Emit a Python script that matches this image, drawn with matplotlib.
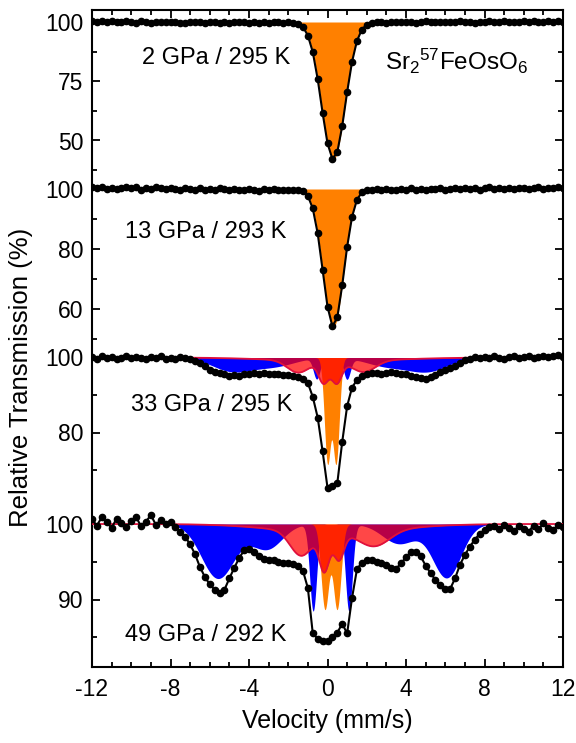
import numpy as np
import matplotlib.pyplot as plt

plt.rcParams['font.family'] = ['Liberation Sans', 'DejaVu Sans']
plt.rcParams['mathtext.default'] = 'regular'
plt.rcParams['axes.unicode_minus'] = False

# measurement channels (mm/s)
velocity = np.arange(-12, 12.001, 0.25)

# relative transmission (%), one value per channel
trans_2gpa = [100.4, 100.1, 100.6, 99.9, 100.3, 100.2, 99.8, 100.4,
              100.1, 99.7, 100.3, 100.0, 99.6, 100.2, 99.9, 100.1,
              99.8, 100.2, 99.7, 99.5, 100.0, 99.8, 100.1, 99.6,
              99.9, 100.2, 99.7, 100.0, 99.6, 99.9, 100.1, 99.8,
              99.7, 100.0, 99.6, 99.9, 99.7, 100.1, 99.8, 99.6,
              99.8, 99.6, 99.3, 97.9, 94.3, 87.3, 75.9, 61.7,
              48.8, 42.2, 45.1, 56.1, 70.4, 83.2, 92.0, 96.8,
              98.9, 99.6, 99.9, 100.1, 99.7, 100.0, 99.8, 100.2,
              99.9, 100.1, 99.7, 100.0, 100.3, 99.8, 100.1, 99.9,
              100.2, 99.8, 100.0, 100.3, 99.9, 100.1, 99.7, 100.2,
              100.0, 100.3, 99.9, 100.1, 100.4, 100.0, 100.2, 99.9,
              100.3, 100.1, 100.4, 100.0, 100.2, 100.5, 100.1, 100.3,
              100.2]

trans_13gpa = [100.5, 100.2, 100.7, 100.1, 100.4, 99.9, 100.3, 100.6,
               100.2, 100.5, 99.8, 100.3, 100.0, 100.8, 100.2, 99.9,
               100.4, 100.1, 99.7, 100.3, 100.0, 99.6, 100.2, 99.8,
               100.1, 99.7, 100.3, 99.9, 99.5, 100.1, 99.8, 99.6,
               100.0, 99.7, 99.4, 99.9, 99.6, 100.0, 99.5, 99.8,
               99.7, 99.6, 99.8, 99.4, 97.7, 93.5, 85.2, 73.1,
               60.8, 54.2, 57.2, 67.9, 80.7, 90.7, 96.4, 98.9,
               99.7, 99.5, 99.9, 99.6, 100.1, 99.8, 99.5, 100.0,
               99.7, 100.2, 99.8, 100.0, 99.6, 100.1, 99.9, 100.3,
               99.8, 100.1, 100.4, 99.9, 100.2, 100.0, 100.3, 99.8,
               100.2, 100.5, 100.0, 100.3, 99.9, 100.4, 100.1, 100.2,
               100.4, 100.0, 100.3, 100.6, 100.1, 100.4, 100.2, 100.5,
               100.3]

trans_33gpa = [100.1, 99.7, 100.3, 99.8, 100.2, 99.6, 100.0, 100.4,
               99.8, 100.2, 99.9, 99.5, 100.1, 99.8, 100.3, 99.7,
               100.0, 99.6, 100.2, 99.8, 99.5, 99.1, 98.5, 97.7,
               96.8, 96.2, 95.8, 95.5, 95.2, 95.3, 95.1, 95.5,
               95.6, 95.8, 95.6, 95.9, 95.7, 95.5, 95.7, 95.3,
               95.4, 95.1, 94.9, 94.3, 93.2, 89.5, 84.0, 75.0,
               65.3, 65.8, 66.5, 77.5, 87.0, 92.0, 94.0, 95.1,
               95.6, 95.8, 95.9, 95.6, 95.8, 96.1, 95.9, 95.7,
               95.5, 95.2, 94.9, 94.6, 94.4, 94.7, 95.3, 96.1,
               96.8, 97.3, 97.8, 98.6, 99.3, 99.7, 100.1, 99.8,
               100.2, 99.9, 100.3, 100.0, 99.7, 100.2, 100.4, 99.9,
               100.1, 100.4, 99.8, 100.2, 100.5, 100.1, 100.3, 100.6,
               100.2]

trans_49gpa = [100.6, 99.8, 100.9, 100.2, 99.5, 100.7, 100.1, 99.6,
               100.4, 100.9, 99.7, 100.3, 101.2, 99.9, 100.5, 100.0,
               100.3, 99.6, 99.0, 98.3, 97.3, 96.0, 94.3, 93.0,
               92.0, 91.3, 90.9, 91.3, 92.8, 94.2, 95.5, 96.5,
               96.7, 96.3, 95.7, 95.3, 95.2, 95.2, 95.0, 94.8,
               94.8, 94.7, 94.4, 93.8, 91.5, 85.5, 84.8, 84.5,
               84.5, 85.0, 85.6, 86.8, 85.5, 90.2, 94.0, 94.9,
               95.2, 95.2, 95.0, 94.9, 94.6, 94.2, 94.1, 94.8,
               95.6, 96.3, 96.3, 95.7, 94.5, 93.5, 92.6, 91.9,
               91.4, 91.4, 92.8, 94.6, 95.9, 97.0, 97.9, 98.7,
               99.2, 99.6, 99.8, 99.3, 99.9, 99.5, 99.1, 99.7,
               99.4, 99.0, 99.8, 99.3, 100.1, 99.5, 99.2, 99.9,
               99.6]

# fitted sub-spectra: (centre mm/s, FWHM mm/s, depth %)
orange_2gpa = [(0.3, 1.42, 58.0)]
orange_13gpa = [(0.3, 1.25, 46.0)]

orange_33gpa = [(0.0, 0.38, 27.8), (0.44, 0.38, 27.8)]
blue_33gpa = [(-4.85, 2.4, 3.6), (-2.7, 2.4, 2.2), (-0.55, 0.4, 5.5),
              (0.99, 0.4, 5.5), (3.0, 2.4, 2.2), (5.1, 2.4, 3.6)]
red_33gpa = [(0.3, 7.0, 1.0), (-1.5, 1.3, 3.2), (-0.2, 0.6, 5.7),
             (0.47, 0.6, 5.7), (1.85, 1.4, 3.0)]

orange_49gpa = [(-0.13, 0.47, 11.25), (0.49, 0.47, 11.25)]
blue_49gpa = [(-5.58, 2.0, 7.2), (-3.1, 1.84, 3.3), (-0.73, 0.42, 11.5),
              (1.09, 0.42, 11.5), (3.65, 2.0, 2.6), (6.07, 1.7, 7.1)]
red_49gpa = [(0.4, 7.0, 1.2), (-1.35, 1.3, 3.2), (-0.16, 0.6, 4.9),
             (0.58, 0.6, 3.5), (2.4, 1.8, 2.0)]

labels = ['2 GPa / 295 K', '13 GPa / 293 K', '33 GPa / 295 K', '49 GPa / 292 K']


def subspectrum(v, lines):
    absorb = np.zeros_like(v)
    for c, w, d in lines:
        absorb += d * np.exp(-4 * np.log(2) * ((v - c) / w) ** 2)
    return 100 - absorb


# frame rows (pixels from top) and where each spectrum sits inside it
frame_top, frame_bot = 10, 667
panels = [
    dict(data=trans_2gpa, orange=orange_2gpa, blue=None, red=None, base=22, scale=2.37,
         major=[100, 75, 50], minor=[87.5, 62.5, 37.5], text=(-5.7, 84.8)),
    dict(data=trans_13gpa, orange=orange_13gpa, blue=None, red=None, base=189, scale=3.0,
         major=[100, 80, 60], minor=[90, 70, 50], text=(-6.2, 85.7)),
    dict(data=trans_33gpa, orange=orange_33gpa, blue=blue_33gpa, red=red_33gpa, base=357.5,
         scale=3.75, major=[100, 80], minor=[90, 70], text=(-5.9, 87.3)),
    dict(data=trans_49gpa, orange=orange_49gpa, blue=blue_49gpa, red=red_49gpa, base=524,
         scale=7.55, major=[100, 90], minor=[95, 85], text=(-6.2, 85.3)),
]

fig = plt.figure(figsize=(5.76, 7.43), dpi=100)
rect = [92 / 576, 1 - frame_bot / 743, (563 - 92) / 576, (frame_bot - frame_top) / 743]
v_fine = np.linspace(-12, 12, 2401)

for i, p in enumerate(panels):
    ax = fig.add_axes(rect)
    ax.set_xlim(-12, 12)
    ax.set_ylim(100 - (frame_bot - p['base']) / p['scale'],
                100 + (p['base'] - frame_top) / p['scale'])

    if p['blue'] is not None:
        ax.fill_between(v_fine, subspectrum(v_fine, p['blue']), 100, color='#0000ff', lw=0)
    ax.fill_between(v_fine, subspectrum(v_fine, p['orange']), 100, color='#ff8000', lw=0)
    if p['red'] is not None:
        red = subspectrum(v_fine, p['red'])
        ax.fill_between(v_fine, red, 100, color='#ff0000', alpha=0.72, lw=0)
        ax.plot(v_fine, red, color='#e0103c', lw=1.3)

    ax.plot(velocity, p['data'], '-o', color='black', lw=1.5, ms=4.5)
    ax.text(p['text'][0], p['text'][1], labels[i], fontsize=17, ha='center', va='center')

    ax.set_yticks(p['major'])
    ax.set_yticklabels([f'{t:g}' for t in p['major']])
    ax.set_yticks(p['minor'], minor=True)
    ax.tick_params(axis='y', which='both', direction='in', left=True, right=True,
                   labelsize=16.5, pad=6, width=1.3)
    ax.tick_params(axis='y', which='major', length=6)
    ax.tick_params(axis='y', which='minor', length=3.5)

    if i == 0:
        ax.set_xticks(range(-12, 13, 4))
        ax.set_xticks(range(-12, 13, 1), minor=True)
        ax.tick_params(axis='x', which='both', direction='in', top=True, bottom=True,
                       labelsize=16.5, pad=8, width=1.3)
        ax.tick_params(axis='x', which='major', length=6)
        ax.tick_params(axis='x', which='minor', length=3.5)
        for s in ax.spines.values():
            s.set_linewidth(1.5)
        ax.text(6.6, 83.3, 'Sr$_2$$^{57}$FeOsO$_6$', fontsize=17.5, ha='center', va='center')
    else:
        ax.patch.set_visible(False)
        for s in ax.spines.values():
            s.set_visible(False)
        ax.tick_params(axis='x', which='both', bottom=False, top=False, labelbottom=False)

fig.text(0.036, 0.492, 'Relative Transmission (%)', rotation=90, ha='center', va='center',
         fontsize=18.5)
fig.text(0.5686, 0.029, 'Velocity (mm/s)', ha='center', va='center', fontsize=18)

fig.savefig('out.png', dpi=100)
